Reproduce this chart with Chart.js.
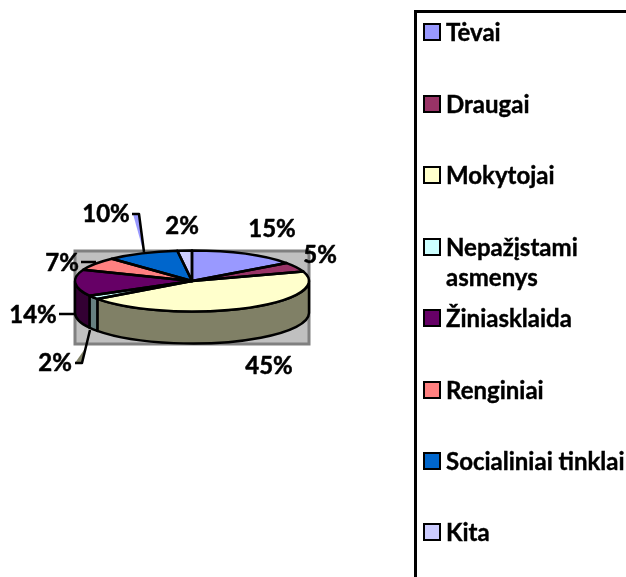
<!DOCTYPE html>
<html><head><meta charset="utf-8">
<style>
html,body{margin:0;padding:0;background:#fff;width:626px;height:577px;overflow:hidden}
#wrap{position:relative;width:626px;height:577px}
canvas{position:absolute;left:0;top:0}
#lg{position:absolute;left:414px;top:10px;width:212px;height:567px;box-sizing:border-box;border-left:3px solid #000;border-top:3px solid #000}
.row{position:absolute;left:446px;font:bold 24px/30px Lato,sans-serif;color:#000;white-space:nowrap;-webkit-text-stroke:0.4px #000}
.sw{position:absolute;left:423px;width:14px;height:14px;border:2.5px solid #000}
</style></head><body>
<div id="wrap"><canvas id="c" width="626" height="577"></canvas><div id="lg"></div></div>
<script src="https://cdn.jsdelivr.net/npm/chart.js@4/dist/chart.umd.min.js"></script>
<script>
const categories=["Tėvai","Draugai","Mokytojai","Nepažįstami asmenys","Žiniasklaida","Renginiai","Socialiniai tinklai","Kita"];
const values=[15,5,45,2,14,7,10,2];
const colors=["#9999FF","#993366","#FFFFCC","#CCFFFF","#660066","#FF8080","#0066CC","#CCCCFF"];
const wallColors=["#4D4D80","#4D1A33","#808066","#668080","#330033","#804040","#003366","#666680"];
const labelPos=[[272,229],[320,255],[269,366],[55,363],[33,315],[62,263],[106,214],[182,226]];
const legendY=[32,104,175,247,318,390,461,532];

const K=30.5/117, DEPTH=32;
const pie3d={id:'pie3d',
 beforeDatasetsDraw(chart){
  const ctx=chart.ctx, arcs=chart.getDatasetMeta(0).data, cx=arcs[0].x, cy=arcs[0].y, rx=arcs[0].outerRadius, ry=rx*K;
  ctx.save();
  ctx.fillStyle='#C0C0C0';ctx.strokeStyle='#808080';ctx.lineWidth=3;
  ctx.fillRect(cx-117,251,234,93);ctx.strokeRect(cx-117,251,234,93);
  ctx.lineJoin='round';ctx.strokeStyle='#000';ctx.lineWidth=2.5;
  arcs.forEach((a,i)=>{
    const s=Math.max(a.startAngle,0),e=Math.min(a.endAngle,Math.PI);
    if(e<=s)return;
    ctx.beginPath();ctx.ellipse(cx,cy,rx,ry,0,s,e);
    ctx.ellipse(cx,cy+DEPTH,rx,ry,0,e,s,true);ctx.closePath();
    ctx.fillStyle=wallColors[i];ctx.fill();ctx.stroke();
  });
  ctx.restore();
  ctx.save();
  ctx.translate(cx,cy);ctx.scale(1,K);ctx.translate(-cx,-cy);
 },
 afterDatasetsDraw(chart){
  const ctx=chart.ctx, arcs=chart.getDatasetMeta(0).data, cx=arcs[0].x, cy=arcs[0].y, rx=arcs[0].outerRadius, ry=rx*K;
  ctx.restore();
  ctx.save();
  ctx.strokeStyle='#000';ctx.lineWidth=2.5;ctx.lineJoin='round';
  arcs.forEach(a=>{
    ctx.beginPath();ctx.moveTo(cx,cy);ctx.ellipse(cx,cy,rx,ry,0,a.startAngle,a.endAngle);ctx.closePath();ctx.stroke();
  });
  // leader lines
  ctx.fillStyle='#9999FF';ctx.beginPath();ctx.moveTo(133,214);ctx.lineTo(139,214);ctx.lineTo(143,250);ctx.closePath();ctx.fill();
  ctx.fillStyle='#808066';ctx.beginPath();ctx.moveTo(75,363);ctx.lineTo(82,363);ctx.lineTo(84,350);ctx.closePath();ctx.fill();
  const lines=[[[59,314],[75,314]],[[81,262],[96,262]],[[132,214],[139,214],[144,252]],[[75,363],[82,363],[90,330]]];
  lines.forEach(l=>{ctx.beginPath();l.forEach((p,i)=>i?ctx.lineTo(p[0],p[1]):ctx.moveTo(p[0],p[1]));ctx.stroke();});
  // labels
  ctx.fillStyle='#000';ctx.strokeStyle='#000';ctx.lineWidth=0.5;ctx.font='bold 24px Lato, sans-serif';ctx.textAlign='center';ctx.textBaseline='middle';
  values.forEach((v,i)=>{ctx.fillText(v+'%',labelPos[i][0],labelPos[i][1]);ctx.strokeText(v+'%',labelPos[i][0],labelPos[i][1]);});
  ctx.restore();
 }
};
new Chart(document.getElementById('c'),{
 type:'pie',
 data:{labels:categories,datasets:[{data:values,backgroundColor:colors,borderWidth:0,radius:117,clip:false}]},
 options:{responsive:false,animation:false,
  layout:{padding:{left:75,right:317,top:164,bottom:179}},
  plugins:{legend:{display:false},tooltip:{enabled:false}}},
 plugins:[pie3d]
});
const wrap=document.getElementById('wrap');
categories.forEach((n,i)=>{
  const sw=document.createElement('div');sw.className='sw';sw.style.top=(legendY[i]-9)+'px';sw.style.background=colors[i];wrap.appendChild(sw);
  const parts=n==="Nepažįstami asmenys"?["Nepažįstami","asmenys"]:[n];
  parts.forEach((t,j)=>{const r=document.createElement('div');r.className='row';r.style.top=(legendY[i]-15+j*30)+'px';r.textContent=t;wrap.appendChild(r);});
});
</script></body></html>
